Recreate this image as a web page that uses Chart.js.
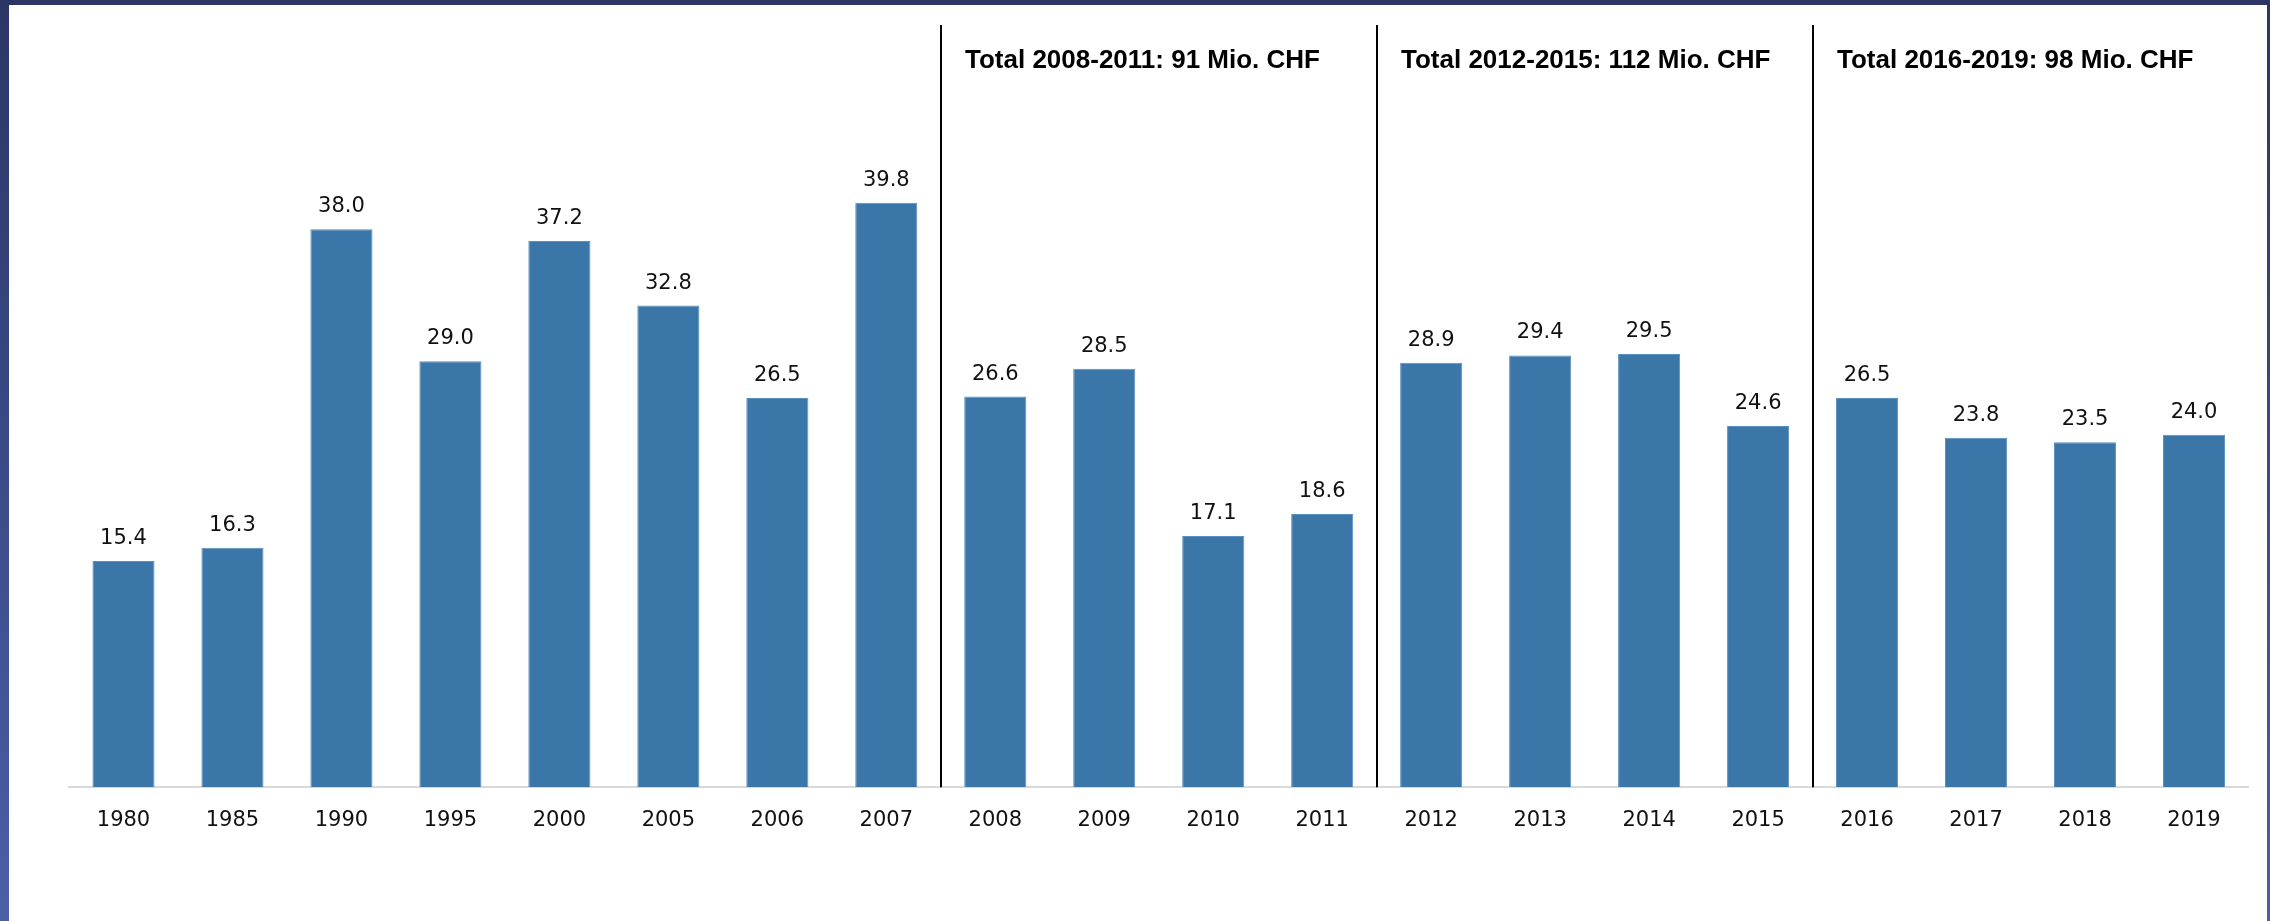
<!DOCTYPE html>
<html>
<head>
<meta charset="utf-8">
<script src="https://cdn.jsdelivr.net/npm/chart.js@4/dist/chart.umd.min.js"></script>
<style>
  html, body { margin: 0; padding: 0; background: #ffffff; }
  #wrap { width: 2270px; height: 921px; position: relative; }
</style>
</head>
<body>
<div id="wrap"><canvas id="chart" width="2270" height="921"></canvas></div>
<script>
// Yearly amounts (Mio. CHF)
const years = ['1980', '1985', '1990', '1995', '2000', '2005', '2006', '2007',
               '2008', '2009', '2010', '2011', '2012', '2013', '2014', '2015',
               '2016', '2017', '2018', '2019'];
const amounts = [15.4, 16.3, 38.0, 29.0, 37.2, 32.8, 26.5, 39.8,
                 26.6, 28.5, 17.1, 18.6, 28.9, 29.4, 29.5, 24.6,
                 26.5, 23.8, 23.5, 24.0];

// Period blocks: index of first year in block and its heading
const periodStarts = [8, 12, 16];
const periodTitles = ['Total 2008-2011: 91 Mio. CHF',
                      'Total 2012-2015: 112 Mio. CHF',
                      'Total 2016-2019: 98 Mio. CHF'];

const BAR_COLOR = '#3a76a8';
const NUM_FONT = '21px "DejaVu Sans"';
const TITLE_FONT = 'bold 26px "Liberation Sans"';

// Page frame, drawn behind everything
const framePlugin = {
  id: 'frame',
  beforeDraw(chart) {
    const ctx = chart.ctx;
    const w = chart.width, h = chart.height;
    ctx.save();
    const g = ctx.createLinearGradient(0, 0, 0, h);
    g.addColorStop(0, '#2b3665');
    g.addColorStop(1, '#4b5fa9');
    ctx.fillStyle = g;
    ctx.fillRect(0, 0, w, h);
    ctx.fillStyle = '#ffffff';
    ctx.fillRect(9, 5, w - 9 - 3, h - 5);
    ctx.restore();
  }
};

// Period separators and headings
const periodPlugin = {
  id: 'periods',
  afterDatasetsDraw(chart) {
    const ctx = chart.ctx;
    const x = chart.scales.x;
    const bottom = chart.chartArea.bottom;
    ctx.save();
    periodStarts.forEach((idx, i) => {
      const sx = Math.round((x.getPixelForValue(idx - 1) + x.getPixelForValue(idx)) / 2);
      ctx.strokeStyle = '#000000';
      ctx.lineWidth = 2;
      ctx.beginPath();
      ctx.moveTo(sx, 25);
      ctx.lineTo(sx, bottom);
      ctx.stroke();
      ctx.fillStyle = '#000000';
      ctx.font = TITLE_FONT;
      ctx.textAlign = 'left';
      ctx.textBaseline = 'alphabetic';
      ctx.fillText(periodTitles[i], sx + 24, 68);
    });
    ctx.restore();
  }
};

// Value labels above each bar
const valueLabelPlugin = {
  id: 'valueLabels',
  afterDatasetsDraw(chart) {
    const ctx = chart.ctx;
    const meta = chart.getDatasetMeta(0);
    ctx.save();
    ctx.fillStyle = '#111111';
    ctx.font = NUM_FONT;
    ctx.textAlign = 'center';
    ctx.textBaseline = 'alphabetic';
    meta.data.forEach((bar, i) => {
      ctx.fillText(amounts[i].toFixed(1), bar.x, bar.y - 17);
    });
    ctx.restore();
  }
};

new Chart(document.getElementById('chart'), {
  type: 'bar',
  data: {
    labels: years,
    datasets: [{
      data: amounts,
      backgroundColor: BAR_COLOR,
      borderColor: '#5b8fbd',
      borderWidth: 1,
      categoryPercentage: 1.0,
      barPercentage: 0.57
    }]
  },
  options: {
    responsive: false,
    animation: false,
    events: [],
    layout: { padding: { left: 69, right: 21.5, top: 53, bottom: 66.6 } },
    plugins: {
      legend: { display: false },
      tooltip: { enabled: false },
      title: { display: false }
    },
    scales: {
      x: {
        grid: { display: false, drawTicks: false },
        border: { display: true, color: '#d9d9d9', width: 2 },
        ticks: {
          color: '#111111',
          font: { family: 'DejaVu Sans', size: 21, lineHeight: 1.2 },
          padding: 21,
          maxRotation: 0,
          autoSkip: false
        }
      },
      y: {
        display: false,
        min: 0,
        max: 50
      }
    }
  },
  plugins: [framePlugin, periodPlugin, valueLabelPlugin]
});
</script>
</body>
</html>
